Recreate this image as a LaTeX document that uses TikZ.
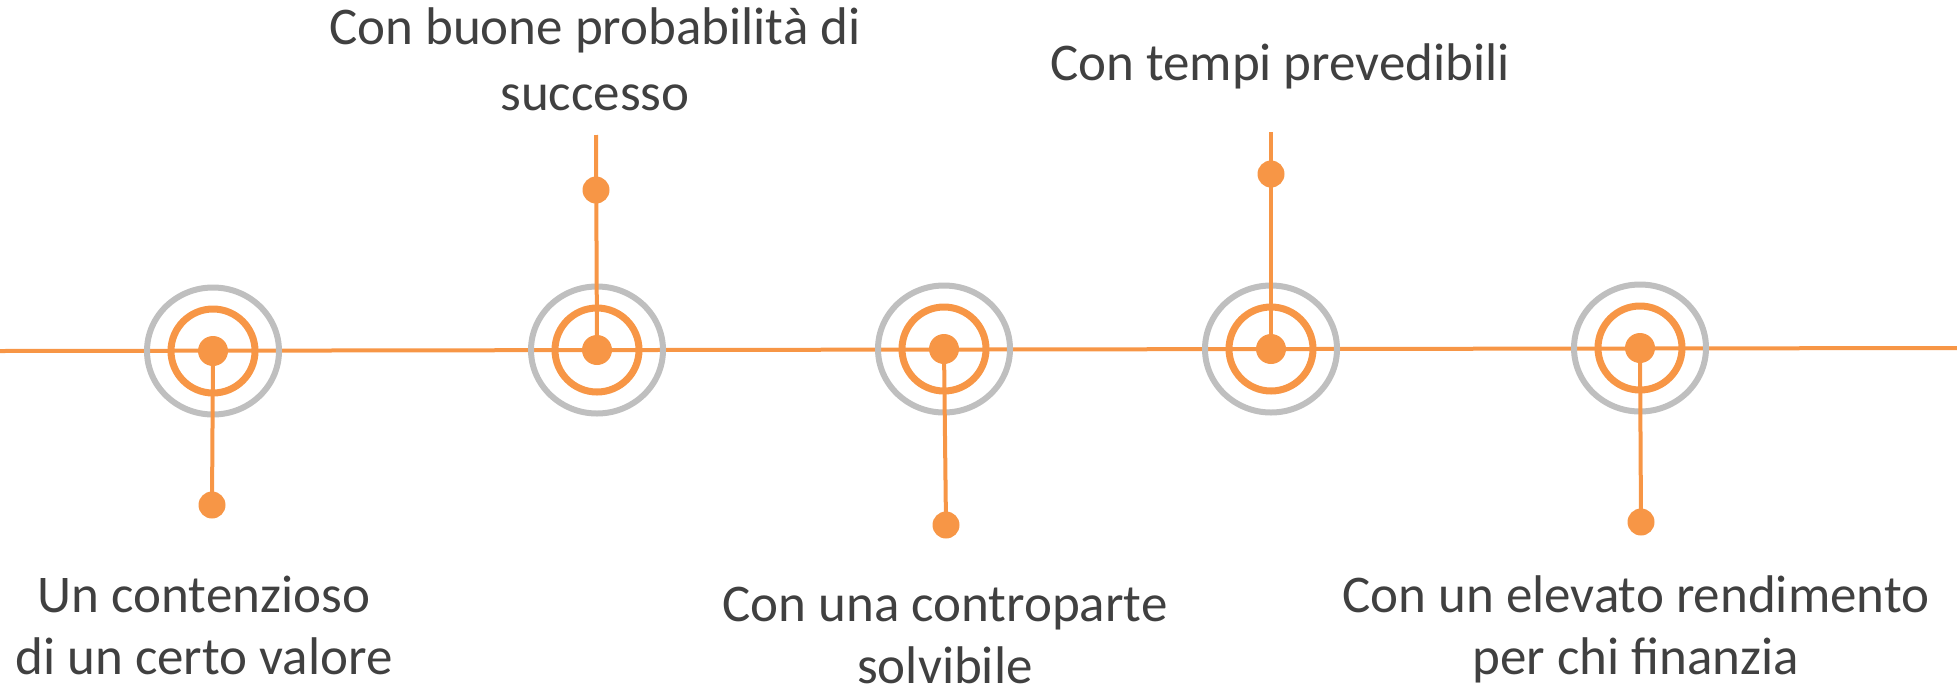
\documentclass[tikz,border=0pt]{standalone}
\usepackage{fontspec}
\setmainfont{Carlito}
\definecolor{orng}{HTML}{F79646}
\definecolor{ringgray}{HTML}{BFBFBF}
\definecolor{txt}{HTML}{404040}
\begin{document}
\begin{tikzpicture}[x=1pt,y=-1pt,
  axis/.style={draw=orng,line width=4pt},
  stem/.style={draw=orng,line width=4pt},
  outerring/.style={draw=ringgray,line width=6pt},
  innerring/.style={draw=orng,line width=7pt},
  cdot/.style={circle,fill=orng,inner sep=0pt,minimum size=30pt},
  sdot/.style={circle,fill=orng,inner sep=0pt,minimum size=27pt},
  lbl/.style={text=txt,font=\fontsize{53}{62}\selectfont,align=center,inner sep=0pt,anchor=base}]
\useasboundingbox (0,0) rectangle (1957,689);
\coordinate (L) at (0,351);
\coordinate (R) at (1957,348);
\draw[axis] (L) -- (R);
% target centres
\coordinate (c1) at (213,351);
\coordinate (c2) at (597,350);
\coordinate (c3) at (944,349);
\coordinate (c4) at (1271,349);
\coordinate (c5) at (1640,348);
\foreach \c in {c1,c2,c3,c4,c5}{
  \draw[outerring] (\c) ellipse [x radius=66pt, y radius=63.5pt];
  \draw[innerring] (\c) circle [radius=42pt];
}
% stem ends
\coordinate (e2) at (596,135);
\coordinate (e4) at (1271,132);
\node[sdot] (d1) at (212,505) {};
\node[sdot] (d2) at (596,190) {};
\node[sdot] (d3) at (946,525) {};
\node[sdot] (d4) at (1271,174) {};
\node[sdot] (d5) at (1641,522) {};
\draw[stem] (c1) -- (d1.center);
\draw[stem] (c2) -- (e2);
\draw[stem] (c3) -- (d3.center);
\draw[stem] (c4) -- (e4);
\draw[stem] (c5) -- (d5.center);
\foreach \c [count=\i] in {c1,c2,c3,c4,c5}{
  \node[cdot] (m\i) at (\c) {};
}
% labels (base = baseline of last line)
\node[lbl] (t1) at (204,674) {Un contenzioso\\di un certo valore};
\node[lbl,font=\fontsize{53}{66}\selectfont] (t2) at (595,110) {Con buone probabilità di\\successo};
\node[lbl] (t3) at (945,683) {Con una controparte\\solvibile};
\node[lbl] (t4) at (1280,80) {Con tempi prevedibili};
\node[lbl] (t5) at (1636,674) {Con un elevato rendimento\\per chi finanzia};
\end{tikzpicture}
\end{document}
